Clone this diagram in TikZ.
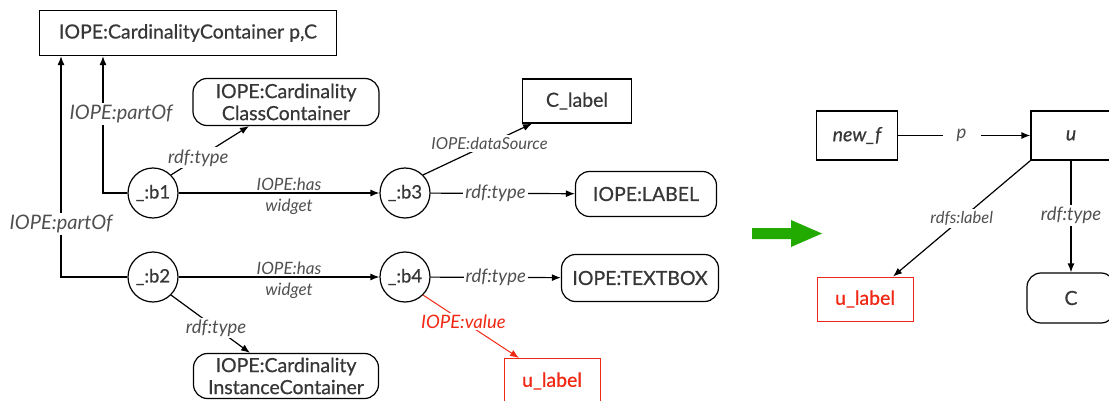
\documentclass[tikz,border=0pt]{standalone}
\usepackage{fontspec}
\setmainfont{Lato}
\newfontfamily\semifont{Lato}[FakeBold=0.6]
\usetikzlibrary{arrows.meta}
\definecolor{txtgrey}{RGB}{55,55,55}
\definecolor{labgrey}{RGB}{80,80,80}
\definecolor{valred}{RGB}{240,40,20}
\definecolor{fwdgreen}{RGB}{34,170,0}

\begin{document}
\begin{tikzpicture}[x=1pt, y=-1pt, node distance={252pt}, line width=1.2pt, >={Latex[length=9pt,width=7pt]},
  main/.style = {draw, circle, minimum size=50pt, inner sep=0pt, text=txtgrey, font=\fontsize{18.5}{22}\semifont},
  box/.style = {draw, rectangle, inner sep=0pt, align=center, text=txtgrey, font=\fontsize{19.5}{22}\semifont},
  rbox/.style = {box, rounded corners=14pt},
  redbox/.style = {box, draw=valred, text=valred, line width=1pt},
  lab/.style = {fill=white, inner sep=2pt, text=labgrey, font=\fontsize{18.5}{22}\selectfont\itshape},
  biglab/.style = {lab, font=\fontsize{20}{24}\selectfont\itshape},
  smalllab/.style = {lab, font=\fontsize{16.5}{20}\selectfont\itshape},
  haslab/.style = {align=center, inner sep=0pt, text=labgrey, font=\fontsize{17}{21}\selectfont\itshape}]
\useasboundingbox (0,0) rectangle (1109,401);

% left graph
\node[box, minimum width=297pt, minimum height=45pt] (top) at (188,33) {IOPE:CardinalityContainer p,C};
\node[rbox, minimum width=186pt, minimum height=47pt] (ccls) at (286,102) {IOPE:Cardinality\\ClassContainer};
\node[main] (b1) at (153,193) {\_:b1};
\node[main] (b2) at (153,277) {\_:b2};
\node[main] (b3) [right of=b1] {\_:b3};
\node[main] (b4) [right of=b2] {\_:b4};
\node[box, minimum width=109pt, minimum height=44pt] (clabel) at (577,101) {C\_label};
\node[rbox, minimum width=141pt, minimum height=45pt] (label) at (646,194) {IOPE:LABEL};
\node[rbox, minimum width=157pt, minimum height=47pt] (textbox) at (640,278) {IOPE:TEXTBOX};
\node[rbox, minimum width=185pt, minimum height=45pt] (cinst) at (286,376) {IOPE:Cardinality\\InstanceContainer};
\node[redbox, minimum width=96pt, minimum height=45pt] (ulabel) at (552,381) {u\_label};

\draw[->] (b1.west) -| node[biglab, pos=0.79, xshift=18pt] {IOPE:partOf} ([xshift=-85pt]top.south);
\draw[->] (b2.west) -| node[biglab, pos=0.62] {IOPE:partOf} ([xshift=-127pt]top.south);
\draw[->] (b1.north east) -- node[lab, pos=0.35] {rdf:type} ([xshift=-37pt]ccls.south);
\draw[->] (b1) -- node[haslab, pos=0.55, yshift=-3pt] {IOPE:has\\widget} (b3);
\draw[->] (b2) -- node[haslab, pos=0.55, yshift=-3pt] {IOPE:has\\widget} (b4);
\draw[->] (b2.south east) -- node[lab, pos=0.57] {rdf:type} ([xshift=-36pt]cinst.north);
\draw[->] (b3.north east) -- node[smalllab, pos=0.61] {IOPE:dataSource} ([xshift=-45pt]clabel.south);
\draw[->] (b3) -- node[lab, pos=0.45] {rdf:type} (label);
\draw[->] (b4) -- node[lab, pos=0.5] {rdf:type} (textbox);
\draw[->, valred, line width=1pt] (b4.south east) -- node[lab, text=valred, pos=0.42] {IOPE:value} ([xshift=-33pt]ulabel.north);

% green arrow
\fill[fwdgreen] (752,228) -- (791,228) -- (791,220) -- (822,233.5) -- (791,247) -- (791,239) -- (752,239) -- cycle;

% right graph
\node[box, minimum width=81pt, minimum height=49pt, font=\fontsize{19.5}{22}\semifont\itshape] (newf) at (857,135.5) {new\_f};
\node[box, minimum width=80pt, minimum height=49pt, font=\fontsize{19.5}{22}\semifont\itshape] (u) at (1071,135.5) {u};
\node[redbox, minimum width=96pt, minimum height=44pt] (ulabel2) at (865,299) {u\_label};
\node[rbox, minimum width=88pt, minimum height=50pt] (c) at (1071,298) {C};

\draw[->] (newf) -- node[lab, pos=0.48, inner xsep=14pt] {p} (u);
\draw[->] (u.south west) -- node[smalllab, pos=0.5] {rdfs:label} ([xshift=28pt]ulabel2.north);
\draw[->] (u) -- node[lab, pos=0.49] {rdf:type} (c);

\end{tikzpicture}
\end{document}
